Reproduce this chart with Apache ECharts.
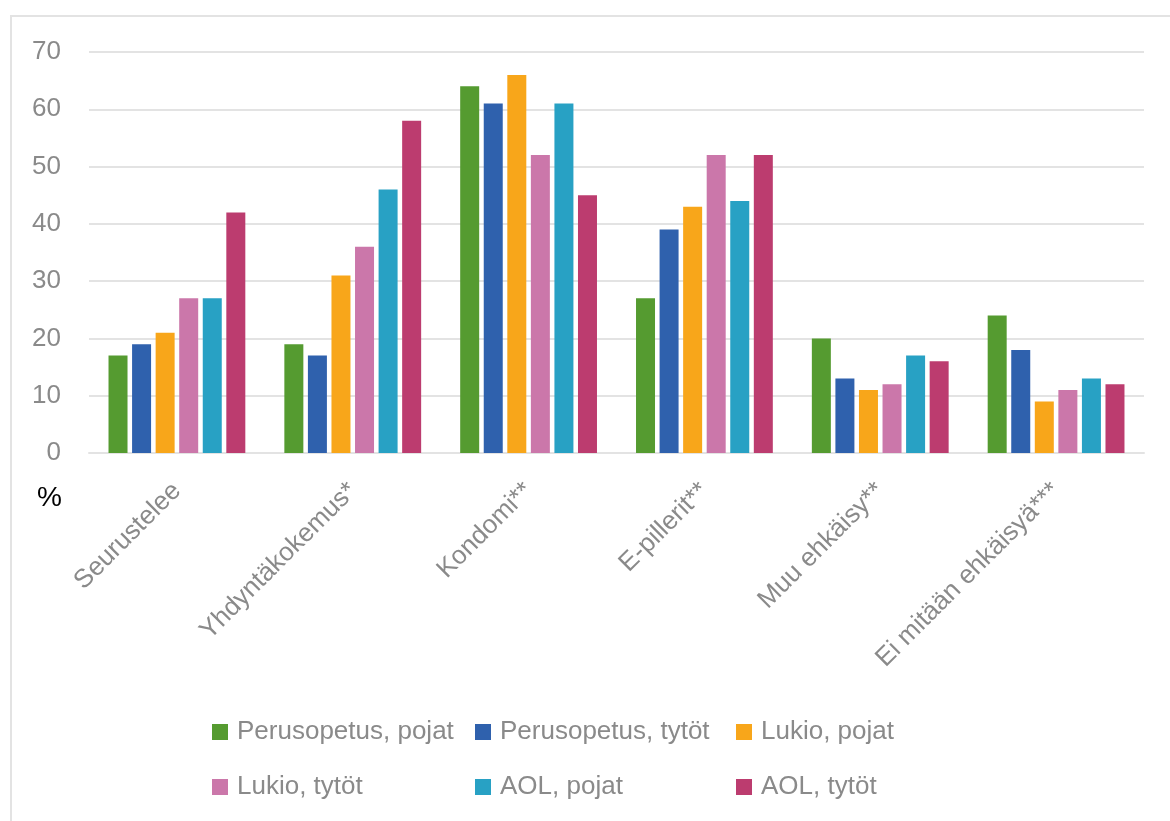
<!DOCTYPE html>
<html>
<head>
<meta charset="utf-8">
<script src="https://cdn.jsdelivr.net/npm/echarts@6/dist/echarts.min.js"></script>
<style>
  html, body { margin: 0; padding: 0; background: #fff; }
  #chart { width: 1170px; height: 821px; }
</style>
</head>
<body>
<div id="chart"></div>
<script>
const categories = ['Seurustelee', 'Yhdyntäkokemus*', 'Kondomi**', 'E-pillerit**', 'Muu ehkäisy**', 'Ei mitään ehkäisyä***'];
const seriesNames = ['Perusopetus, pojat', 'Perusopetus, tytöt', 'Lukio, pojat', 'Lukio, tytöt', 'AOL, pojat', 'AOL, tytöt'];
const perusPojat = [17, 19, 64, 27, 20, 24];
const perusTytot = [19, 17, 61, 39, 13, 18];
const lukioPojat = [21, 31, 66, 43, 11, 9];
const lukioTytot = [27, 36, 52, 52, 12, 11];
const aolPojat = [27, 46, 61, 44, 17, 13];
const aolTytot = [42, 58, 45, 52, 16, 12];
const colors = ['#559b30', '#2f61ad', '#f8a61a', '#cb77aa', '#28a1c4', '#bc3c6f'];

const values = [perusPojat, perusTytot, lukioPojat, lukioTytot, aolPojat, aolTytot];
const font = 'Liberation Sans';
const gray = '#8a8a8a';

// legend laid out as a 3x2 grid, one legend per item
const legendPos = [[212, 731], [475, 731], [736, 731], [212, 786], [475, 786], [736, 786]];
const legends = seriesNames.map((name, i) => ({
    data: [name],
    left: legendPos[i][0],
    top: legendPos[i][1] - 12,
    padding: 0,
    itemWidth: 16,
    itemHeight: 16,
    itemGap: 0,
    icon: 'rect',
    textStyle: { color: gray, fontSize: 26, fontFamily: font, padding: [0, 0, 0, 4] },
}));

const chart = echarts.init(document.getElementById('chart'));
chart.setOption({
    animation: false,
    color: colors,
    grid: { left: 89, right: 26, top: 52, bottom: 368 },
    legend: legends,
    xAxis: {
        type: 'category',
        data: categories,
        axisLine: { lineStyle: { color: '#e3e3e3', width: 2 } },
        axisTick: { show: false },
        axisLabel: { rotate: 45, color: gray, fontSize: 26, fontFamily: font, margin: 34, interval: 0 },
    },
    yAxis: {
        type: 'value',
        min: 0, max: 70, interval: 10,
        axisLine: { show: false },
        axisTick: { show: false },
        axisLabel: { color: gray, fontSize: 26, fontFamily: font, margin: 28 },
        splitLine: { lineStyle: { color: '#e3e3e3', width: 2 } },
    },
    graphic: [
        { type: 'rect', shape: { x: 11, y: 16, width: 1200, height: 900 }, style: { fill: 'none', stroke: '#e3e3e3', lineWidth: 2 }, silent: true },
        { type: 'text', left: 37, top: 484, style: { text: '%', fill: '#000', fontSize: 28, fontFamily: font } },
    ],
    series: seriesNames.map((name, i) => ({
        name,
        type: 'bar',
        data: values[i],
        barWidth: 19,
        barGap: '24%',
        itemStyle: { color: colors[i] },
    })),
});
</script>
</body>
</html>
